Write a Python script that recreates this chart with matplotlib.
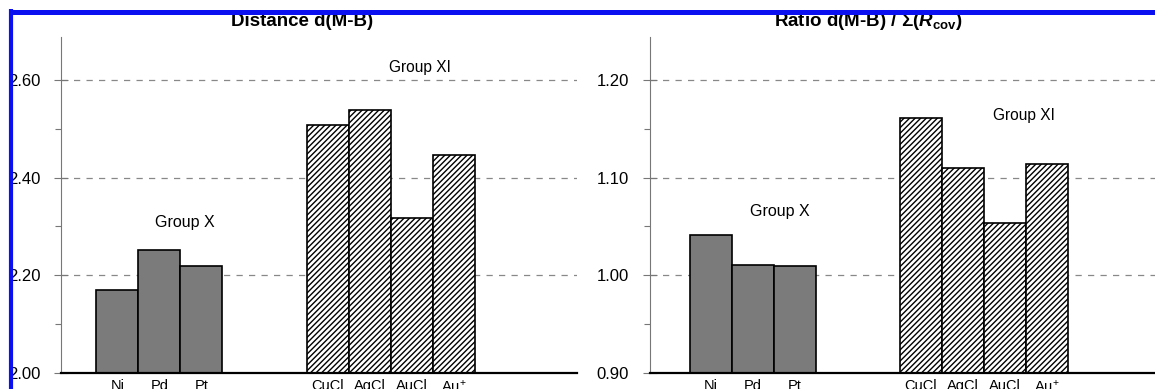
import matplotlib
matplotlib.use('Agg')
import matplotlib.pyplot as plt
from matplotlib.lines import Line2D
from matplotlib.ticker import MultipleLocator, FormatStrFormatter

matplotlib.rc('font', family='Liberation Sans', size=10)
matplotlib.rcParams['mathtext.fontset'] = 'custom'
matplotlib.rcParams['mathtext.rm'] = 'Liberation Sans'
matplotlib.rcParams['mathtext.it'] = 'Liberation Sans:italic'
matplotlib.rcParams['mathtext.bf'] = 'Liberation Sans:bold'
matplotlib.rcParams['mathtext.bfit'] = 'Liberation Sans:italic:bold'
matplotlib.rcParams['hatch.linewidth'] = 1.0

# data
group10 = ['Ni', 'Pd', 'Pt']
group11 = ['CuCl', 'AgCl', 'AuCl', 'Au$^{+}$']
pos10 = [0, 1, 2]
pos11 = [5, 6, 7, 8]

dist10 = [2.170, 2.252, 2.220]
dist11 = [2.508, 2.539, 2.318, 2.446]

ratio10 = [1.041, 1.011, 1.010]
ratio11 = [1.161, 1.110, 1.054, 1.114]

W, H = 1155, 389
fig = plt.figure(figsize=(W / 100, H / 100), dpi=100)

def px(x0, y0, x1, y1):
    return [x0 / W, 1 - y1 / H, (x1 - x0) / W, (y1 - y0) / H]

def panel(rect, v10, v11, ylim, major, minor, xlim, g10, g11, title, tx):
    ax = fig.add_axes(rect)
    ax.bar(pos10, v10, width=1.0, color='#7b7b7b',
           edgecolor='black', linewidth=1.2, zorder=3)
    ax.bar(pos11, v11, width=1.0, color='white', edgecolor='black',
           hatch='//////', linewidth=1.2, zorder=3)
    ax.set_ylim(*ylim)
    ax.set_xlim(*xlim)
    ax.yaxis.set_major_locator(MultipleLocator(major))
    ax.yaxis.set_minor_locator(MultipleLocator(minor))
    ax.yaxis.set_major_formatter(FormatStrFormatter('%.2f'))
    ax.set_xticks(pos10 + pos11)
    ax.set_xticklabels(group10 + group11, fontsize=10.5)
    ax.tick_params(axis='x', length=0, pad=4)
    ax.tick_params(axis='y', which='major', direction='inout', length=10,
                   color='#777777', width=0.8, pad=10, labelsize=12)
    ax.tick_params(axis='y', which='minor', direction='out', length=4,
                   color='#777777', width=0.8)
    ax.grid(axis='y', which='major', color='#888888', linestyle=(0, (5, 5)),
            linewidth=0.9, zorder=0)
    for s in ['top', 'right']:
        ax.spines[s].set_visible(False)
    ax.spines['left'].set_color('#777777')
    ax.spines['left'].set_linewidth(0.8)
    ax.spines['bottom'].set_linewidth(1.6)
    ax.spines['bottom'].set_zorder(4)
    ax.text(g10[0], g10[1], 'Group X', ha='center', va='center', fontsize=11.5)
    ax.text(g11[0], g11[1], 'Group XI', ha='center', va='center', fontsize=11.2)
    ax.text(tx, 1 - 26 / H, title, transform=fig.transFigure, ha='center',
            va='baseline', fontsize=13.5, fontweight='bold')
    return ax

panel(px(61, 37, 577, 373), dist10, dist11, (2.0, 2.688), 0.2, 0.1,
      (-1.345, 10.94), (1.6, 2.309), (7.2, 2.625), 'Distance d(M-B)', 302 / W)
panel(px(650, 37, 1166, 373), ratio10, ratio11, (0.9, 1.244), 0.1, 0.05,
      (-1.45, 10.83), (1.64, 1.065), (7.45, 1.164),
      r'Ratio d(M-B) / $\mathbf{\Sigma}$($\mathbfit{R}_{\mathbf{cov}}$)', 868 / W)

# blue frame of the scan
fig.add_artist(Line2D([9 / W, 1], [1 - 11.5 / H, 1 - 11.5 / H], color='#0a10f0',
                      linewidth=3.6, solid_capstyle='butt'))
fig.add_artist(Line2D([11 / W, 11 / W], [0, 1 - 9 / H], color='#0a10f0',
                      linewidth=3.0, solid_capstyle='butt'))

fig.savefig('out.png', dpi=100)
